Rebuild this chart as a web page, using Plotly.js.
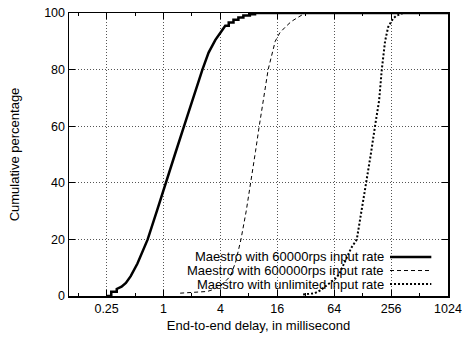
<!DOCTYPE html>
<html>
<head>
<meta charset="utf-8">
<script src="https://cdn.plot.ly/plotly-3.0.1.min.js"></script>
<style>html,body{margin:0;padding:0;background:#fff;}#chart{width:462px;height:337px;}</style>
</head>
<body>
<div id="chart"></div>
<script>
// Series names
var seriesNames = [
  "Maestro with 60000rps input rate",
  "Maestro with 600000rps input rate",
  "Maestro with unlimited input rate"
];

// 60000 rps (delay in ms, cumulative %)
var s1X = [0.25, 0.28, 0.28, 0.32, 0.32, 0.36, 0.40, 0.45, 0.53, 0.68, 0.85, 1.05, 1.32, 1.65, 2.1, 2.58, 3.0, 3.54, 4.0, 4.5, 4.9, 4.9, 5.5, 5.5, 6.2, 6.2, 7.0, 7.0, 8.2, 8.2, 9.3, 9.3, 1024];
var s1Y = [0, 0, 1.5, 1.5, 2.5, 3.3, 4.6, 7.0, 11.5, 20, 30, 40, 50, 60, 71, 80, 86, 90.5, 93, 95.5, 95.5, 96.6, 96.6, 97.6, 97.6, 98.4, 98.4, 99.1, 99.1, 99.6, 99.6, 100, 100];

// 600000 rps
var s2X = [1.5, 2.4, 2.9, 3.3, 3.7, 4.3, 5.1, 5.8, 6.6, 7.5, 8.4, 9.4, 10.3, 11.5, 12.8, 15.2, 17, 19.4, 22.5, 26.6, 29, 31.6];
var s2Y = [1.0, 1.3, 1.6, 2.2, 3.0, 4.5, 7, 12, 20, 30, 40, 51, 60, 70, 80, 90, 93, 95, 97, 98.5, 99.3, 100];

// unlimited
var s3X = [30, 36, 40, 45.6, 50, 58, 68, 74, 85, 97, 111, 125, 139, 156, 173, 191, 204, 221, 238, 255, 268, 290, 315, 343];
var s3Y = [0.5, 0.8, 1, 2, 3, 4.5, 6.5, 8.5, 13, 17, 20, 30, 40, 50, 60, 69, 80, 90, 95, 97, 98, 99, 99.5, 100];

// Axis ticks
var xTickVals = [0.25, 1, 4, 16, 64, 256, 1024];
var xTickText = ["0.25", "1", "4", "16", "64", "256", "1024"];
var xMinorVals = [0.125, 0.5, 2, 8, 32, 128, 512];
var yTickVals = [0, 20, 40, 60, 80, 100];

var lineStyles = [
  {color: "#000", width: 2.5, dash: "solid"},
  {color: "#000", width: 1, dash: "4px,3px"},
  {color: "#000", width: 2, dash: "2px,2px"}
];

var xs = [s1X, s2X, s3X], ys = [s1Y, s2Y, s3Y];
var traces = xs.map(function (x, i) {
  return {x: x, y: ys[i], type: "scatter", mode: "lines", name: seriesNames[i],
          line: lineStyles[i], showlegend: false, hoverinfo: "skip"};
});

// Legend (gnuplot-style: text right-aligned, sample to the right)
var legendY = [0.138, 0.090, 0.042];
var annotations = [], shapes = [];
seriesNames.forEach(function (n, i) {
  annotations.push({text: n, xref: "paper", yref: "paper", x: 0.836, y: legendY[i],
    xanchor: "right", yanchor: "middle", showarrow: false,
    font: {family: "Liberation Sans, Arial, sans-serif", size: 13, color: "#000"}});
  shapes.push({type: "line", xref: "paper", yref: "paper", x0: 0.847, x1: 0.956,
    y0: legendY[i], y1: legendY[i], line: lineStyles[i]});
});

var axFont = {family: "Liberation Sans, Arial, sans-serif", size: 12.5, color: "#000"};
var layout = {
  width: 462, height: 337,
  margin: {l: 69, r: 14, t: 13, b: 41},
  paper_bgcolor: "#fff", plot_bgcolor: "#fff",
  font: axFont,
  xaxis: {
    type: "log", range: [Math.log10(0.1), Math.log10(1024)],
    tickmode: "array", tickvals: xTickVals, ticktext: xTickText,
    ticks: "inside", ticklen: 6, tickcolor: "#000", tickwidth: 1,
    showline: true, linecolor: "#000", linewidth: 1.5, mirror: "allticks",
    showgrid: true, gridcolor: "#555", griddash: "1px,2px", gridwidth: 1,
    zeroline: false, tickfont: axFont,
    minor: {tickmode: "array", tickvals: xMinorVals, ticks: "inside", ticklen: 3, tickcolor: "#000", showgrid: false},
    title: {text: "End-to-end delay, in millisecond", font: {family: "Liberation Sans, Arial, sans-serif", size: 13, color: "#000"}, standoff: 6}
  },
  yaxis: {
    range: [0, 100], tickmode: "array", tickvals: yTickVals,
    ticks: "inside", ticklen: 6, tickcolor: "#000", tickwidth: 1,
    showline: true, linecolor: "#000", linewidth: 1.5, mirror: "allticks",
    showgrid: true, gridcolor: "#555", griddash: "1px,2px", gridwidth: 1,
    zeroline: false, tickfont: axFont,
    title: {text: "Cumulative percentage", font: {family: "Liberation Sans, Arial, sans-serif", size: 13, color: "#000"}, standoff: 21}
  },
  annotations: annotations,
  shapes: shapes,
  showlegend: false
};

Plotly.newPlot("chart", traces, layout, {staticPlot: true, displayModeBar: false});
</script>
</body>
</html>
